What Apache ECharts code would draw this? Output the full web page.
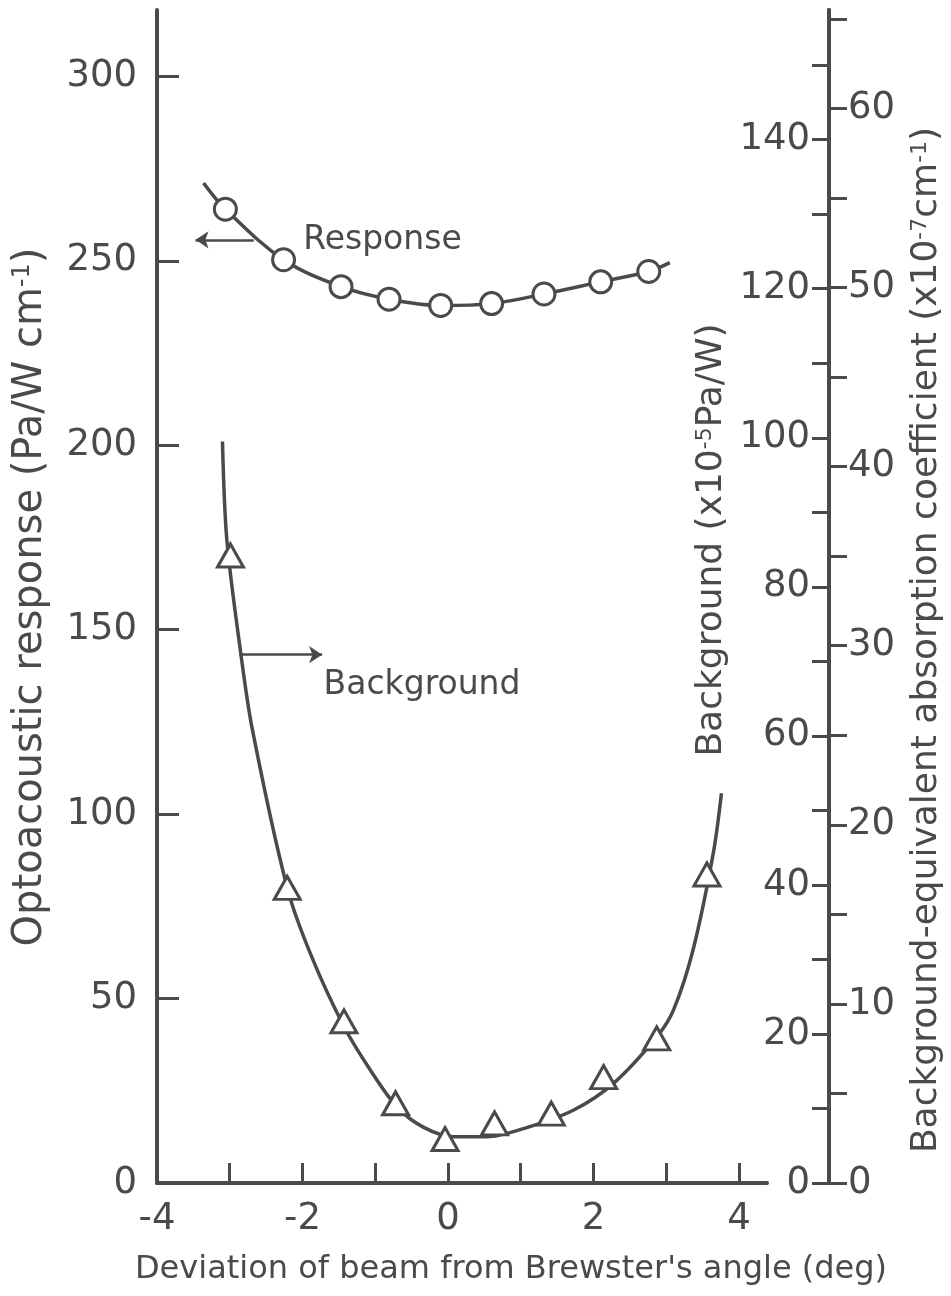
<!DOCTYPE html>
<html>
<head>
<meta charset="utf-8">
<script src="https://cdn.jsdelivr.net/npm/echarts@6/dist/echarts.min.js"></script>
<style>
  html, body { margin: 0; padding: 0; background: #fff; }
  #chart { width: 951px; height: 1296px; }
</style>
</head>
<body>
<div id="chart"></div>
<script>
// values (x = deviation from Brewster's angle, deg)
const respX = [-3.06, -2.26, -1.47, -0.81, -0.10, 0.60, 1.32, 2.10, 2.76]
const respY = [264.0, 250.3, 243.0, 239.6, 237.9, 238.4, 241.0, 244.3, 247.1]
// drawn fit through the response points
const respCurveX = [-3.36, -3.06, -2.26, -1.47, -0.81, -0.10, 0.60, 1.32, 2.10, 2.76, 3.05]
const respCurveY = [271.1, 264.0, 250.3, 243.0, 239.6, 237.9, 238.4, 241.0, 244.3, 247.1, 249.5]

// background, x10^-5 Pa/W
const bgX = [-2.99, -2.21, -1.43, -0.72, -0.04, 0.64, 1.42, 2.14, 2.87, 3.56]
const bgY = [84.2, 39.6, 21.7, 10.7, 5.9, 8.0, 9.3, 14.2, 19.4, 41.4]
const bgCurveX = [-3.10, -3.04, -2.85, -2.69, -2.21, -1.88, -1.43, -1.07, -0.70, -0.34, 0.08, 0.54, 1.04, 1.73, 2.28, 2.87, 3.10, 3.37, 3.65, 3.76]
const bgCurveY = [99.5, 86.3, 71.2, 60.9, 39.6, 30.5, 21.0, 15.2, 10.2, 7.5, 6.2, 6.2, 7.3, 9.8, 13.4, 19.6, 23.2, 31.3, 44.4, 52.3]

// tick marks and labels
const xTickVals = [-3, -2, -1, 0, 1, 2, 3, 4]
const xLabelVals = [-4, -2, 0, 2, 4]
const respTickVals = [0, 50, 100, 150, 200, 250, 300]
const bgTickVals = [0, 10, 20, 30, 40, 50, 60, 70, 80, 90, 100, 110, 120, 130, 140, 150]
const bgLabelVals = [0, 20, 40, 60, 80, 100, 120, 140]
const absTickVals = [0, 5, 10, 15, 20, 25, 30, 35, 40, 45, 50, 55, 60, 65]
const absLabelVals = [0, 10, 20, 30, 40, 50, 60]

// arrows pointing from each curve to its axis, and where the words sit
const respArrow = [[-2.67, 255.7], [-3.47, 255.7]]
const bgArrow = [[-2.84, 70.9], [-1.73, 70.9]]
const respLabelAt = [-1.99, 255.4]
const bgLabelAt = [-1.71, 66.8]

const ink = '#4a4a4a'
const font = 'DejaVu Sans'
const pairs = (xs, ys) => xs.map((x, i) => [x, ys[i]])

let chart = echarts.init(document.getElementById('chart'))

let axisLine = { show: true, onZero: false, lineStyle: { color: ink, width: 4 } }
let tickStyle = { color: ink, width: 3 }
let labelStyle = { fontSize: 37, fontFamily: font, color: ink }
let sup = { fontSize: 22, fontFamily: font, fill: ink, verticalAlign: 'top' }

let option = {
  animation: false,
  backgroundColor: '#fff',
  grid: { left: 157, right: 184, top: 10, bottom: 113 },
  xAxis: {
    type: 'value', min: -4, max: 4.386, interval: 1,
    axisLine: axisLine,
    axisTick: { inside: true, length: 20, lineStyle: tickStyle, customValues: xTickVals },
    axisLabel: Object.assign({ customValues: xLabelVals, margin: 18 }, labelStyle),
    splitLine: { show: false }
  },
  yAxis: [
    {
      type: 'value', min: 0, max: 318, position: 'left',
      axisLine: axisLine,
      axisTick: { inside: true, length: 22, lineStyle: tickStyle, customValues: respTickVals },
      axisLabel: Object.assign({ customValues: respTickVals, margin: 20 }, labelStyle),
      splitLine: { show: false }
    },
    {
      type: 'value', min: 0, max: 157.4, position: 'right', offset: 62,
      axisLine: axisLine,
      axisTick: { inside: true, length: 17, lineStyle: tickStyle, customValues: bgTickVals },
      axisLabel: Object.assign({ inside: true, customValues: bgLabelVals, margin: 19 }, labelStyle),
      splitLine: { show: false }
    },
    {
      type: 'value', min: 0, max: 65.5, position: 'right', offset: 62,
      axisLine: axisLine,
      axisTick: { inside: false, length: 18, lineStyle: tickStyle, customValues: absTickVals },
      axisLabel: Object.assign({ customValues: absLabelVals, margin: 19 }, labelStyle),
      splitLine: { show: false }
    }
  ],
  series: [
    {
      name: 'Response fit', type: 'line', yAxisIndex: 0,
      data: pairs(respCurveX, respCurveY),
      smooth: 0.35, showSymbol: false, silent: true,
      lineStyle: { color: ink, width: 3.5 },
      markLine: {
        silent: true, symbol: ['none', 'arrow'], symbolSize: 13,
        lineStyle: { type: 'solid', color: ink, width: 2.5 },
        label: { show: false },
        data: [[{ coord: respArrow[0] }, { coord: respArrow[1] }]]
      },
      markPoint: {
        silent: true, symbol: 'circle', symbolSize: 0,
        label: { show: true, position: 'right', distance: 0, formatter: 'Response', fontSize: 33, fontFamily: font, color: ink },
        data: [{ coord: respLabelAt }]
      }
    },
    {
      name: 'Response', type: 'scatter', yAxisIndex: 0,
      data: pairs(respX, respY),
      symbol: 'circle', symbolSize: 22, z: 5,
      itemStyle: { color: '#fff', borderColor: ink, borderWidth: 3, opacity: 1 }
    },
    {
      name: 'Background fit', type: 'line', yAxisIndex: 1,
      data: pairs(bgCurveX, bgCurveY),
      smooth: 0.3, showSymbol: false, silent: true,
      lineStyle: { color: ink, width: 3.5 },
      markLine: {
        silent: true, symbol: ['none', 'arrow'], symbolSize: 13,
        lineStyle: { type: 'solid', color: ink, width: 2.5 },
        label: { show: false },
        data: [[{ coord: bgArrow[0] }, { coord: bgArrow[1] }]]
      },
      markPoint: {
        silent: true, symbol: 'circle', symbolSize: 0,
        label: { show: true, position: 'right', distance: 0, formatter: 'Background', fontSize: 33, fontFamily: font, color: ink },
        data: [{ coord: bgLabelAt }]
      }
    },
    {
      name: 'Background', type: 'scatter', yAxisIndex: 1,
      data: pairs(bgX, bgY),
      symbol: 'triangle', symbolSize: [26, 23], z: 5,
      itemStyle: { color: '#fff', borderColor: ink, borderWidth: 3, opacity: 1 }
    }
  ],
  graphic: [
    {
      type: 'text', x: 31, y: 597, rotation: Math.PI / 2, silent: true,
      style: {
        text: 'Optoacoustic response (Pa/W cm{sup|-1})',
        fontSize: 40, fontFamily: font, fill: ink, align: 'center', verticalAlign: 'middle',
        rich: { sup: { fontSize: 24, fontFamily: font, fill: ink, verticalAlign: 'top' } }
      }
    },
    {
      type: 'text', x: 712, y: 540, rotation: Math.PI / 2, silent: true,
      style: {
        text: 'Background (x10{sup|-5}Pa/W)',
        fontSize: 36, fontFamily: font, fill: ink, align: 'center', verticalAlign: 'middle',
        rich: { sup: sup }
      }
    },
    {
      type: 'text', x: 927, y: 640, rotation: Math.PI / 2, silent: true,
      style: {
        text: 'Background-equivalent absorption coefficient (x10{sup|-7}cm{sup|-1})',
        fontSize: 36, fontFamily: font, fill: ink, align: 'center', verticalAlign: 'middle',
        rich: { sup: sup }
      }
    },
    {
      type: 'text', x: 511, y: 1270, silent: true,
      style: {
        text: "Deviation of beam from Brewster's angle (deg)",
        fontSize: 32, fontFamily: font, fill: ink, align: 'center', verticalAlign: 'middle'
      }
    }
  ]
}

chart.setOption(option)
</script>
</body>
</html>
